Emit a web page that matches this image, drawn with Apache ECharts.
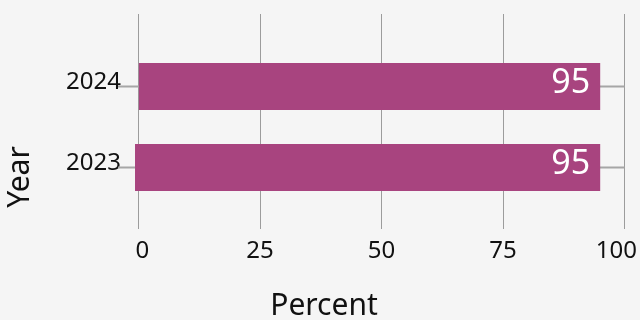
<!DOCTYPE html>
<html>
<head>
<meta charset="utf-8">
<style>
  html, body { margin: 0; padding: 0; background: #f5f5f5; }
  #chart { width: 640px; height: 320px; }
</style>
<script src="https://cdn.jsdelivr.net/npm/echarts@6/dist/echarts.min.js"></script>
</head>
<body>
<div id="chart"></div>
<script>
// Share of respondents per year (percent)
const years = ['2023', '2024'];
const percentValues = [95, 95];
const barStarts = [-0.7, 0.1];
const percentTicks = [0, 25, 50, 75, 100];

const FONT = 'Noto Sans';
const BAR_COLOR = '#a8447f';
const TEXT_COLOR = '#111111';

const barData = years.map((y, i) => [barStarts[i], percentValues[i], y]);

const chart = echarts.init(document.getElementById('chart'), null, { renderer: 'canvas' });

chart.setOption({
  backgroundColor: '#f5f5f5',
  animation: false,
  textStyle: { fontFamily: FONT },
  grid: [
    // vertical reference lines and percent labels
    { left: 138.4, right: 15.5, top: 14, bottom: 91 },
    // bars and year labels
    { left: 118, right: 15.5, top: 46, bottom: 112 }
  ],
  xAxis: [
    {
      gridIndex: 0,
      type: 'value',
      min: percentTicks[0],
      max: percentTicks[percentTicks.length - 1],
      interval: 25,
      axisLine: { show: false },
      axisTick: { show: false },
      splitLine: { show: true, lineStyle: { color: '#9c9c9c', width: 1 } },
      axisLabel: {
        margin: 10,
        fontFamily: FONT,
        fontSize: 24,
        color: TEXT_COLOR,
        formatter: v => v === 0 ? '{l|0}' : (v === 100 ? '{r|100}' : String(v)),
        rich: {
          l: { fontFamily: FONT, fontSize: 24, color: TEXT_COLOR, padding: [0, 0, 0, 8] },
          r: { fontFamily: FONT, fontSize: 24, color: TEXT_COLOR, padding: [0, 16, 0, 0] }
        }
      }
    },
    {
      gridIndex: 1,
      type: 'value',
      min: -4.2,
      max: 100,
      show: false
    }
  ],
  yAxis: [
    { gridIndex: 0, type: 'value', show: false },
    {
      gridIndex: 1,
      type: 'category',
      data: years,
      axisLine: { show: false },
      axisTick: { show: false },
      splitLine: { show: false },
      axisLabel: {
        margin: -3,
        fontFamily: FONT,
        fontSize: 24,
        color: TEXT_COLOR,
        formatter: v => '{y|' + v + '}',
        rich: {
          y: { fontFamily: FONT, fontSize: 24, color: TEXT_COLOR, padding: [0, 0, 9, 0] }
        }
      }
    }
  ],
  series: [
    {
      type: 'custom',
      xAxisIndex: 1,
      yAxisIndex: 1,
      encode: { x: [0, 1], y: 2 },
      data: barData,
      renderItem: function (params, api) {
        const cs = params.coordSys;
        const start = api.coord([api.value(0), api.value(2)]);
        const end = api.coord([api.value(1), api.value(2)]);
        const h = api.size([0, 1])[1] * 0.58;
        return {
          type: 'group',
          children: [
            {
              type: 'line',
              shape: { x1: cs.x, y1: start[1], x2: cs.x + cs.width, y2: start[1] },
              style: { stroke: '#a6a6a6', lineWidth: 2 }
            },
            {
              type: 'rect',
              shape: { x: start[0], y: start[1] - h / 2, width: end[0] - start[0], height: h },
              style: { fill: BAR_COLOR }
            },
            {
              type: 'text',
              x: end[0] - 10,
              y: start[1] - 3,
              style: {
                text: String(api.value(1)),
                fontFamily: FONT,
                fontSize: 34,
                fill: '#ffffff',
                align: 'right',
                verticalAlign: 'middle'
              }
            }
          ]
        };
      }
    }
  ],
  graphic: [
    {
      type: 'text',
      x: 20,
      y: 177,
      rotation: Math.PI / 2,
      style: {
        text: 'Year',
        fontFamily: FONT,
        fontSize: 30,
        fill: TEXT_COLOR,
        align: 'center',
        verticalAlign: 'middle'
      }
    },
    {
      type: 'text',
      x: 324,
      y: 306,
      style: {
        text: 'Percent',
        fontFamily: FONT,
        fontSize: 30,
        fill: TEXT_COLOR,
        align: 'center',
        verticalAlign: 'middle'
      }
    }
  ]
});
</script>
</body>
</html>
